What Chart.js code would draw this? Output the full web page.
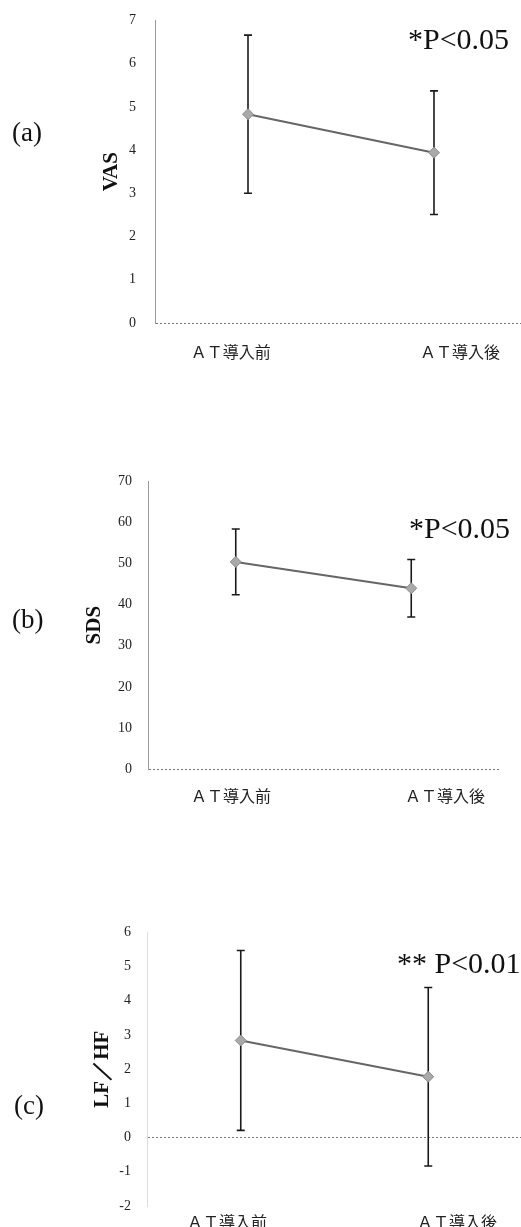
<!DOCTYPE html>
<html><head><meta charset="utf-8">
<script src="https://cdn.jsdelivr.net/npm/chart.js@4.4.1/dist/chart.umd.min.js"></script>
<style>
html,body{margin:0;padding:0;background:#fff;width:521px;height:1227px;overflow:hidden;position:relative}
canvas{position:absolute;left:0}
.lbl{position:absolute;font-family:"Liberation Serif",serif;color:#111;line-height:1;white-space:nowrap}
</style></head><body>
<canvas id="ca"></canvas>
<canvas id="cb"></canvas>
<canvas id="cc"></canvas>
<div class="lbl" style="left:12px;top:119px;font-size:27px">(a)</div>
<div class="lbl" style="left:12px;top:606px;font-size:27px">(b)</div>
<div class="lbl" style="left:14px;top:1092px;font-size:27px">(c)</div>
<div class="lbl" style="left:408px;top:24px;font-size:30px">*P&lt;0.05</div>
<div class="lbl" style="left:409px;top:513px;font-size:30px">*P&lt;0.05</div>
<div class="lbl" style="left:397px;top:948px;font-size:30px">** P&lt;0.01</div>
<script>
const categories = ['ＡＴ導入前', 'ＡＴ導入後'];
const vasMean = [4.83, 3.94];
const vasSD = [1.83, 1.43];
const sdsMean = [50.4, 44.0];
const sdsSD = [8.0, 7.0];
const lfhfMean = [2.84, 1.78];
const lfhfSD = [2.63, 2.61];
const vasRange = [0, 7, 1];
const sdsRange = [0, 70, 10];
const lfhfRange = [-2, 6, 1];

const TICK_FONT = 14;

const errorBarPlugin = {
  id: 'errorBars',
  beforeDatasetsDraw(chart) {
    const ds = chart.data.datasets[0];
    const meta = chart.getDatasetMeta(0);
    const y = chart.scales.y;
    const ctx = chart.ctx;
    ctx.save();
    ctx.strokeStyle = '#1a1a1a';
    ctx.lineWidth = 1.6;
    meta.data.forEach((pt, i) => {
      const top = y.getPixelForValue(ds.data[i] + ds.errorBars[i]);
      const bot = y.getPixelForValue(ds.data[i] - ds.errorBars[i]);
      const x = pt.x, cap = 4;
      ctx.beginPath();
      ctx.moveTo(x, top); ctx.lineTo(x, bot);
      ctx.moveTo(x - cap, top); ctx.lineTo(x + cap, top);
      ctx.moveTo(x - cap, bot); ctx.lineTo(x + cap, bot);
      ctx.stroke();
    });
    ctx.restore();
  }
};

function makeChart(id, p, mean, sd, range, title) {
  const cv = document.getElementById(id);
  const topPad = p.tickPad + TICK_FONT * 1.2 / 2;
  cv.width = p.R;
  cv.height = Math.round((p.B - p.T) + topPad + p.xlH);
  cv.style.top = (p.T - topPad) + 'px';
  new Chart(cv, {
    type: 'line',
    data: {
      labels: categories,
      datasets: [{
        data: mean,
        errorBars: sd,
        borderColor: '#666666',
        borderWidth: 2,
        pointStyle: 'rectRot',
        pointRadius: 5.5,
        pointBackgroundColor: '#a9a9a9',
        pointBorderColor: '#8c8c8c',
        pointBorderWidth: 1,
        tension: 0,
        fill: false
      }]
    },
    options: {
      responsive: false,
      animation: false,
      devicePixelRatio: 1,
      layout: { autoPadding: false, padding: 0 },
      plugins: { legend: { display: false }, tooltip: { enabled: false } },
      scales: {
        x: { type: 'category', display: false, offset: true },
        xl: {
          type: 'linear', position: 'bottom', min: p.lMin, max: p.lMax,
          afterBuildTicks: a => { a.ticks = categories.map((c, i) => ({ value: i + 1 })); },
          afterFit: s => { s.height = p.xlH; },
          grid: { display: false },
          border: { display: false },
          ticks: {
            padding: p.xlPad, autoSkip: false, maxRotation: 0,
            callback: v => categories[v - 1] || '',
            font: { family: '"Noto Sans CJK JP"', size: 16 },
            color: '#222'
          }
        },
        y: {
          min: range[0], max: range[1],
          afterFit: s => { s.width = p.L; },
          ticks: {
            stepSize: range[2], padding: p.tickPad,
            font: { family: '"Liberation Serif"', size: TICK_FONT },
            color: '#222'
          },
          grid: {
            drawTicks: false,
            color: c => (c.tick && c.tick.value === 0) ? '#777' : 'rgba(0,0,0,0)'
          },
          border: { color: p.axisColor, dash: [2, 2] },
          title: {
            display: true, text: title,
            font: { family: '"Liberation Serif"', size: 21, weight: 'bold' },
            color: '#111',
            padding: { top: p.titlePad, bottom: 0 }
          }
        }
      }
    },
    plugins: [errorBarPlugin]
  });
}

makeChart('ca', { T: 20, B: 323, L: 155, R: 527, xlH: 45, xlPad: 11, lMin: 0.669, lMax: 2.292, tickPad: 19, titlePad: 99, axisColor: '#999' }, vasMean, vasSD, vasRange, 'VAS');
makeChart('cb', { T: 481, B: 768.3, L: 148, R: 499, xlH: 45, xlPad: 9, lMin: 0.612, lMax: 2.253, tickPad: 16, titlePad: 82, axisColor: '#999' }, sdsMean, sdsSD, sdsRange, 'SDS');
makeChart('cc', { T: 932.7, B: 1206.7, L: 147, R: 522, xlH: 26, xlPad: -2, lMin: 0.652, lMax: 2.282, tickPad: 16, titlePad: 90, axisColor: '#ddd' }, lfhfMean, lfhfSD, lfhfRange, 'LF／HF');
</script>
</body></html>
